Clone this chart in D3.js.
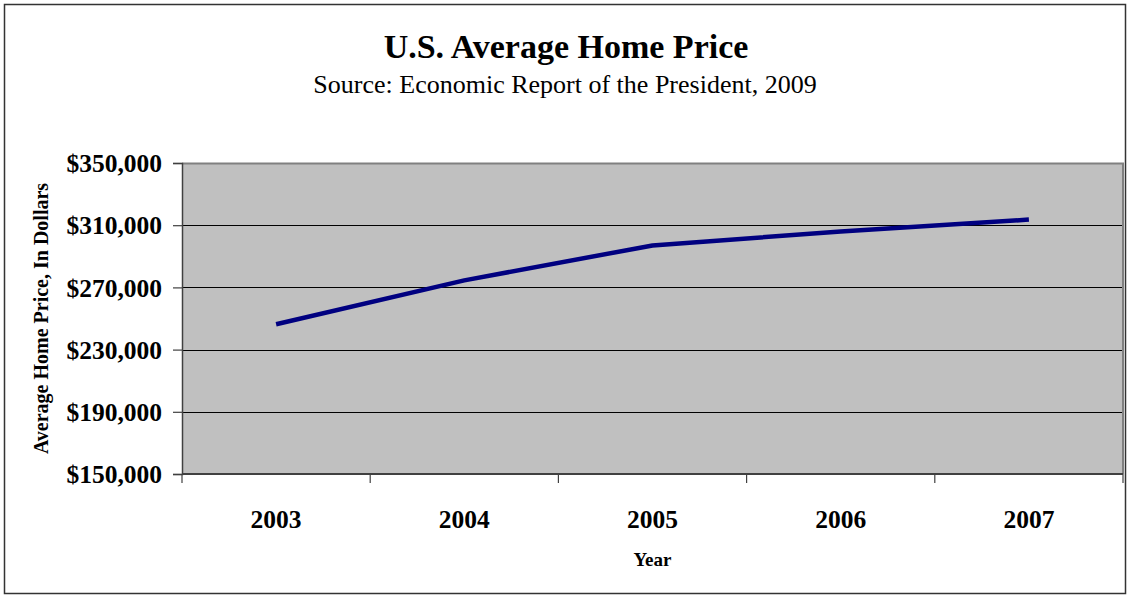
<!DOCTYPE html>
<html>
<head>
<meta charset="utf-8">
<script src="https://cdn.jsdelivr.net/npm/d3@7"></script>
<style>
  html, body { margin: 0; padding: 0; background: #fff; }
  svg { display: block; }
  text { font-family: "Liberation Serif", "Times New Roman", serif; fill: #000; }
</style>
</head>
<body>
<svg id="chart" width="1130" height="596"></svg>
<script>
// Average home price by year (dollars)
const years = ["2003", "2004", "2005", "2006", "2007"];
const prices = [246300, 274500, 297000, 305900, 313600];
const yTicks = [150000, 190000, 230000, 270000, 310000, 350000];

const titleText = "U.S. Average Home Price";
const subtitleText = "Source: Economic Report of the President, 2009";
const xTitle = "Year";
const yTitle = "Average Home Price, In Dollars";

const plot = { left: 182, right: 1123, top: 163, bottom: 474 };

const svg = d3.select("#chart");

// outer frame
svg.append("rect")
  .attr("x", 4.5).attr("y", 4.5)
  .attr("width", 1121).attr("height", 589)
  .attr("fill", "#fff")
  .attr("stroke", "#333").attr("stroke-width", 1.5);

const x = d3.scaleBand().domain(years).range([plot.left, plot.right]).padding(0);
const y = d3.scaleLinear().domain([150000, 350000]).range([plot.bottom, plot.top]);

// plot background
svg.append("rect")
  .attr("x", plot.left).attr("y", plot.top)
  .attr("width", plot.right - plot.left).attr("height", plot.bottom - plot.top)
  .attr("fill", "#c0c0c0");

// horizontal gridlines
svg.append("g").selectAll("line")
  .data(yTicks.filter(v => v > 150000 && v < 350000))
  .join("line")
  .attr("x1", plot.left).attr("x2", plot.right)
  .attr("y1", d => Math.round(y(d)) + 0.5).attr("y2", d => Math.round(y(d)) + 0.5)
  .attr("stroke", "#000").attr("stroke-width", 1);

// top and right plot border
svg.append("path")
  .attr("d", `M${plot.left},${plot.top + 0.5}H${plot.right}V${plot.bottom}`)
  .attr("fill", "none").attr("stroke", "#808080").attr("stroke-width", 2);

// y axis
const yAxis = d3.axisLeft(y)
  .tickValues(yTicks)
  .tickSize(9)
  .tickPadding(11)
  .tickFormat(d => "$" + d3.format(",")(d));
const gy = svg.append("g").attr("transform", `translate(${plot.left},0)`).call(yAxis);
gy.select(".domain").attr("stroke", "#404040").attr("stroke-width", 1.5);
gy.selectAll(".tick line").attr("stroke", "#404040").attr("stroke-width", 1.2);
gy.selectAll(".tick text")
  .style("font-family", '"Liberation Serif", serif')
  .style("font-size", "25.5px").style("font-weight", "bold").attr("fill", "#000")
  .attr("dy", "0.34em");

// x axis: ticks between categories
const xAxisG = svg.append("g").attr("transform", `translate(0,${plot.bottom})`);
xAxisG.append("line")
  .attr("x1", plot.left).attr("x2", plot.right).attr("y1", 0).attr("y2", 0)
  .attr("stroke", "#404040").attr("stroke-width", 2);
const boundaries = years.map(d => x(d)).concat([x(years[years.length - 1]) + x.bandwidth()]);
xAxisG.selectAll("line.tk").data(boundaries).join("line")
  .attr("class", "tk")
  .attr("x1", d => d).attr("x2", d => d).attr("y1", 0).attr("y2", 9)
  .attr("stroke", "#404040").attr("stroke-width", 1.2);
xAxisG.selectAll("text").data(years).join("text")
  .attr("x", d => x(d) + x.bandwidth() / 2)
  .attr("y", 54)
  .attr("text-anchor", "middle")
  .style("font-size", "25.5px").style("font-weight", "bold")
  .text(d => d);

// line series
const line = d3.line()
  .x((d, i) => x(years[i]) + x.bandwidth() / 2)
  .y(d => y(d));
svg.append("path")
  .datum(prices)
  .attr("d", line)
  .attr("fill", "none")
  .attr("stroke", "#000080")
  .attr("stroke-width", 4.5)
  .attr("stroke-linejoin", "round");

// titles
svg.append("text")
  .attr("x", 566).attr("y", 58)
  .attr("text-anchor", "middle")
  .style("font-size", "34px").style("font-weight", "bold")
  .text(titleText);
svg.append("text")
  .attr("x", 565).attr("y", 93)
  .attr("text-anchor", "middle")
  .style("font-size", "26px")
  .text(subtitleText);

svg.append("text")
  .attr("x", (plot.left + plot.right) / 2).attr("y", 566)
  .attr("text-anchor", "middle")
  .style("font-size", "19px").style("font-weight", "bold")
  .text(xTitle);

svg.append("text")
  .attr("transform", `translate(48,${(plot.top + plot.bottom) / 2}) rotate(-90)`)
  .attr("text-anchor", "middle")
  .style("font-size", "20px").style("font-weight", "bold")
  .text(yTitle);
</script>
</body>
</html>
